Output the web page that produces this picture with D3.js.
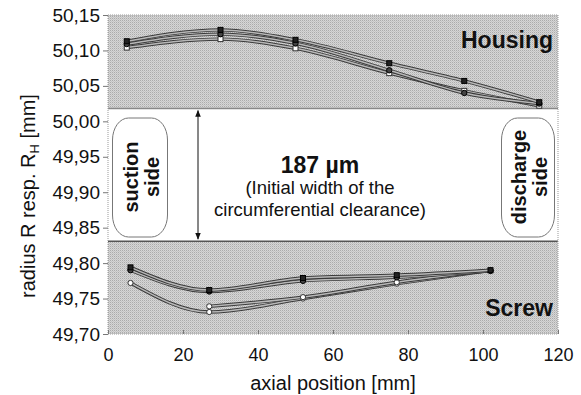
<!DOCTYPE html>
<html>
<head>
<meta charset="utf-8">
<script src="https://cdn.jsdelivr.net/npm/d3@7"></script>
<style>
  body { margin: 0; background: #fff; }
  text { font-family: "Liberation Sans", Arial, sans-serif; fill: #111; }
</style>
</head>
<body>
<div id="chart"></div>
<script>
// axial positions of the measuring points
var xHousing = [5, 30, 50, 75, 95, 115];
var xScrew = [6, 27, 52, 77, 102];

// housing radius, three measurements
var housingA = [50.113, 50.129, 50.115, 50.082, 50.057, 50.027];
var housingB = [50.109, 50.123, 50.110, 50.072, 50.040, 50.025];
var housingC = [50.104, 50.116, 50.103, 50.068, 50.043, 50.022];

// screw radius
var screwA = [49.794, 49.762, 49.779, 49.783, 49.790];
var screwB = [49.790, 49.760, 49.775, 49.780, 49.789];
var screwC = [49.772, 49.731, 49.750, 49.771, 49.790];
var screwD = [null, 49.739, 49.752, 49.773, 49.790];

var yTicks = [49.70, 49.75, 49.80, 49.85, 49.90, 49.95, 50.00, 50.05, 50.10, 50.15];
var xTicks = [0, 20, 40, 60, 80, 100, 120];

// clearance band
var bandTop = 50.018;
var bandBottom = 49.831;

var width = 581, height = 395;
var x = d3.scaleLinear().domain([0, 120]).range([108, 558]);
var y = d3.scaleLinear().domain([49.70, 50.15]).range([334, 15]);

var svg = d3.select("#chart").append("svg")
  .attr("width", width).attr("height", height);

// stippled gray pattern
var defs = svg.append("defs");
var pat = defs.append("pattern").attr("id", "stip")
  .attr("width", 2).attr("height", 2).attr("patternUnits", "userSpaceOnUse");
pat.append("rect").attr("width", 2).attr("height", 2).attr("fill", "#d6d6d6");
pat.append("rect").attr("width", 1).attr("height", 1).attr("fill", "#ababab");
pat.append("rect").attr("x", 1).attr("y", 1).attr("width", 1).attr("height", 1).attr("fill", "#c4c4c4");

defs.append("marker").attr("id", "arr").attr("viewBox", "0 0 10 10")
  .attr("refX", 9).attr("refY", 5).attr("markerWidth", 7).attr("markerHeight", 9)
  .attr("orient", "auto-start-reverse")
  .append("path").attr("d", "M0,1 L10,5 L0,9 Z").attr("fill", "#111");

// gray bands
svg.append("rect").attr("x", x(0)).attr("y", y(50.15))
  .attr("width", x(120) - x(0)).attr("height", y(bandTop) - y(50.15))
  .attr("fill", "url(#stip)");
svg.append("rect").attr("x", x(0)).attr("y", y(bandBottom))
  .attr("width", x(120) - x(0)).attr("height", y(49.70) - y(bandBottom))
  .attr("fill", "url(#stip)");

// band edges
svg.append("line").attr("x1", x(0)).attr("x2", x(120))
  .attr("y1", y(bandTop)).attr("y2", y(bandTop))
  .attr("stroke", "#888").attr("stroke-width", 1.5);
svg.append("line").attr("x1", x(0)).attr("x2", x(120))
  .attr("y1", y(bandBottom)).attr("y2", y(bandBottom))
  .attr("stroke", "#555").attr("stroke-width", 1.5);

// plot frame
svg.append("rect").attr("x", x(0)).attr("y", y(50.15))
  .attr("width", x(120) - x(0)).attr("height", y(49.70) - y(50.15))
  .attr("fill", "none").attr("stroke", "#999").attr("stroke-width", 1)
  .attr("stroke-dasharray", "1,1");

// axes
var locale = d3.formatLocale({ decimal: ",", thousands: ".", grouping: [3], currency: ["", ""] });
var yAxis = d3.axisLeft(y).tickValues(yTicks).tickFormat(locale.format(".2f")).tickSize(5);
var gy = svg.append("g").attr("transform", "translate(" + x(0) + ",0)").call(yAxis);
gy.select(".domain").remove();
gy.selectAll("line").attr("stroke", "#777");
gy.selectAll("text").attr("font-size", 19).attr("x", -8).attr("fill", "#111");

var xAxis = d3.axisBottom(x).tickValues(xTicks).tickSize(-4);
var gx = svg.append("g").attr("transform", "translate(0," + y(49.70) + ")").call(xAxis);
gx.select(".domain").remove();
gx.selectAll("line").attr("stroke", "#777");
gx.selectAll("text").attr("font-size", 18).attr("y", 14).attr("fill", "#111");

// axis titles
svg.append("text").attr("x", 333).attr("y", 390).attr("text-anchor", "middle")
  .attr("font-size", 20).text("axial position [mm]");
var yt = svg.append("text").attr("transform", "translate(35,196) rotate(-90)")
  .attr("text-anchor", "middle").attr("font-size", 20);
yt.append("tspan").text("radius R resp. R");
yt.append("tspan").attr("font-size", 13).attr("dy", 4).text("H");
yt.append("tspan").attr("dy", -4).text(" [mm]");

// measurement lines
function drawSeries(xs, vals, marker) {
  var pts = xs.map(function (d, i) { return { x: d, v: vals[i] }; });
  var line = d3.line()
    .defined(function (d) { return d.v != null; })
    .x(function (d) { return x(d.x); })
    .y(function (d) { return y(d.v); })
    .curve(d3.curveMonotoneX);
  svg.append("path").datum(pts).attr("d", line)
    .attr("fill", "none").attr("stroke", "#3a3a3a").attr("stroke-width", 3.4);
  svg.append("path").datum(pts).attr("d", line)
    .attr("fill", "none").attr("stroke", "#b8b8b8").attr("stroke-width", 1.5);
  var g = svg.append("g");
  pts.filter(function (d) { return d.v != null; }).forEach(function (d) {
    var cx = x(d.x), cy = y(d.v);
    if (marker === "sq") {
      g.append("rect").attr("x", cx - 2.5).attr("y", cy - 2.5).attr("width", 5).attr("height", 5)
        .attr("fill", "#222").attr("stroke", "#000");
    } else if (marker === "dot") {
      g.append("circle").attr("cx", cx).attr("cy", cy).attr("r", 2.7)
        .attr("fill", "#444").attr("stroke", "#000");
    } else if (marker === "wsq") {
      g.append("rect").attr("x", cx - 2.5).attr("y", cy - 2.5).attr("width", 5).attr("height", 5)
        .attr("fill", "#fff").attr("stroke", "#333");
    } else {
      g.append("circle").attr("cx", cx).attr("cy", cy).attr("r", 2.6)
        .attr("fill", "#fff").attr("stroke", "#333");
    }
  });
}

drawSeries(xHousing, housingC, "wsq");
drawSeries(xHousing, housingB, "dot");
drawSeries(xHousing, housingA, "sq");
drawSeries(xScrew, screwC, "wdot");
drawSeries(xScrew, screwD, "wdot");
drawSeries(xScrew, screwB, "dot");
drawSeries(xScrew, screwA, "sq");

// band labels
svg.append("text").attr("x", 553).attr("y", 48).attr("text-anchor", "end")
  .attr("font-size", 23).attr("font-weight", "bold").attr("fill", "#2a2a2a").text("Housing");
svg.append("text").attr("x", 553).attr("y", 316).attr("text-anchor", "end")
  .attr("font-size", 23).attr("font-weight", "bold").attr("fill", "#2a2a2a").text("Screw");

// rounded side boxes
function sideBox(cx, w, l1, l2) {
  svg.append("rect").attr("x", cx - w / 2).attr("y", 118).attr("width", w).attr("height", 119)
    .attr("rx", 16).attr("ry", 22).attr("fill", "#fff")
    .attr("stroke", "#777").attr("stroke-width", 1);
  var t = svg.append("text").attr("transform", "translate(" + cx + ",177) rotate(-90)")
    .attr("text-anchor", "middle").attr("font-size", 20).attr("font-weight", "bold");
  t.append("tspan").attr("x", 0).attr("dy", -2).text(l1);
  t.append("tspan").attr("x", 0).attr("dy", 21).text(l2);
}
sideBox(140, 55, "suction", "side");
sideBox(528, 53, "discharge", "side");

// clearance arrow
svg.append("line").attr("x1", x(24)).attr("x2", x(24))
  .attr("y1", y(bandTop) + 2).attr("y2", y(bandBottom) - 2)
  .attr("stroke", "#111").attr("stroke-width", 1)
  .attr("marker-start", "url(#arr)").attr("marker-end", "url(#arr)");

svg.append("text").attr("x", 320).attr("y", 173).attr("text-anchor", "middle")
  .attr("font-size", 23).attr("font-weight", "bold").text("187 \u00b5m");
svg.append("text").attr("x", 320).attr("y", 194).attr("text-anchor", "middle")
  .attr("font-size", 18.5).text("(Initial width of the");
svg.append("text").attr("x", 320).attr("y", 216).attr("text-anchor", "middle")
  .attr("font-size", 18.5).text("circumferential clearance)");
</script>
</body>
</html>
